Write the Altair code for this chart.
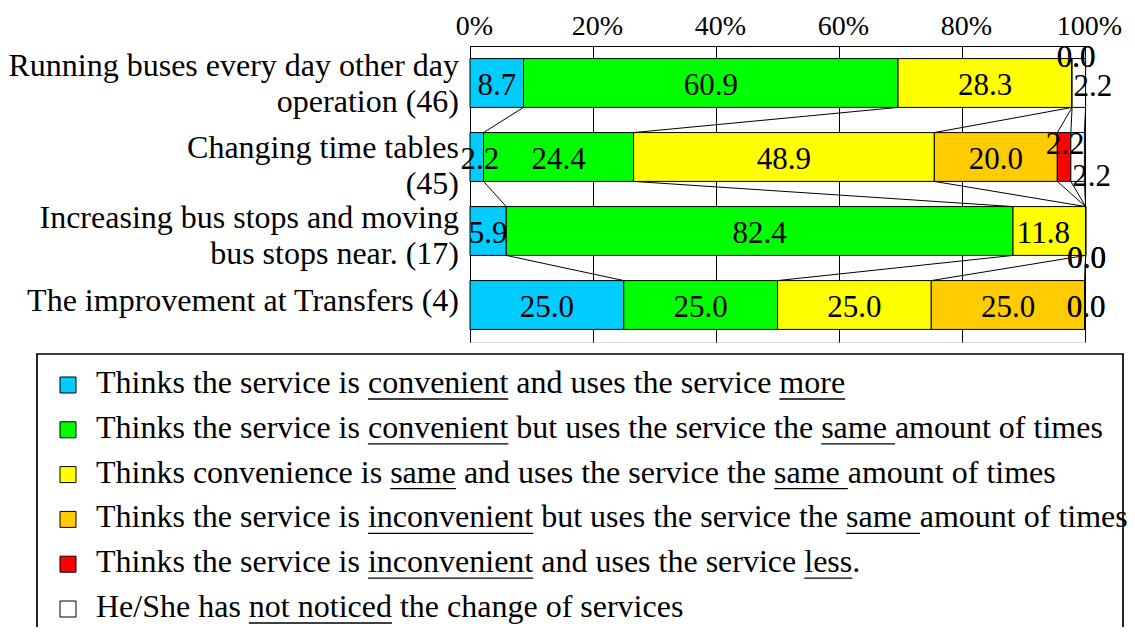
import altair as alt
import pandas as pd

# ---------------- data ----------------
categories = [
    "Running buses every day other day\noperation (46)",
    "Changing time tables\n(45)",
    "Increasing bus stops and moving\nbus stops near. (17)",
    "The improvement at Transfers (4)",
]

legend_markup = [
    "Thinks the service is [convenient] and uses the service [more]",
    "Thinks the service is [convenient] but uses the service the [same ]amount of times",
    "Thinks convenience is [same] and uses the service the [same ]amount of times",
    "Thinks the service is [inconvenient] but uses the service the [same ]amount of times",
    "Thinks the service is [inconvenient] and uses the service [less].",
    "He/She has [not noticed] the change of services",
]
colors = ["#00CCFF", "#00FF00", "#FFFF00", "#FFCC00", "#FF0000", "#FFFFFF"]

conv_more = [8.7, 2.2, 5.9, 25.0]
conv_same = [60.9, 24.4, 82.4, 25.0]
same_same = [28.3, 48.9, 11.8, 25.0]
inconv_same = [0.0, 20.0, 0.0, 25.0]
inconv_less = [0.0, 2.2, 0.0, 0.0]
not_noticed = [2.2, 2.2, 0.0, 0.0]
series_values = [conv_more, conv_same, same_same, inconv_same, inconv_less, not_noticed]

tick_values = [0, 20, 40, 60, 80, 100]

# label nudges (pixels) for crowded small segments: (row, series) -> (dx, dy)
LABEL_DY = 3
label_nudge = {
    (0, 3): (4, -28), (0, 4): (4, -28), (0, 5): (14, 1),
    (1, 0): (3, 0), (1, 4): (1, -15), (1, 5): (14, 17),
    (2, 2): (-6, 0), (2, 3): (1, 25), (2, 4): (1, 25), (2, 5): (1, 25),
    (3, 4): (1, 0), (3, 5): (1, 0),
}
# vertical nudge of each category label block (pixels)
cat_label_dy = [-17, -9, -13, -4]

FONT = "Liberation Serif"
W, H = 615, 296

series_names = [m.replace("[", "").replace("]", "") for m in legend_markup]

# ---------------- tables ----------------
rows = []
cums = []
for r, cat in enumerate(categories):
    cum = 0.0
    row_c = []
    for k, name in enumerate(series_names):
        v = series_values[k][r]
        dx, dy = label_nudge.get((r, k), (0, 0))
        rows.append(dict(category=cat, series=name, start=cum, end=cum + v,
                         mid=cum + v / 2, lbl=f"{v:.1f}", nudge=f"{dx},{dy}"))
        cum += v
        row_c.append(cum)
    cums.append(row_c)
df = pd.DataFrame(rows)

lines = []
for r in range(len(categories) - 1):
    for k in range(len(series_names)):
        lines.append(dict(cat_a=categories[r], cat_b=categories[r + 1],
                          xa=cums[r][k], xb=cums[r + 1][k]))
lines_df = pd.DataFrame(lines)
cat_df = pd.DataFrame({"category": categories, "idx": list(range(len(categories)))})

# ---------------- scales / axes ----------------
xscale = alt.Scale(domain=[0, 100], nice=False, zero=True)
yscale = alt.Scale(domain=categories, paddingInner=0.34, paddingOuter=0.17)
color_scale = alt.Scale(domain=series_names, range=colors)

x_axis = alt.Axis(orient="top", values=tick_values, labelExpr="datum.value + '%'",
                  title=None, ticks=False, tickSize=0, grid=True, gridColor="black",
                  gridOpacity=1, gridWidth=1, domainColor="black", domainWidth=1,
                  labelFont=FONT, labelFontSize=28, labelColor="black",
                  labelPadding=6, labelOffset=4, labelFlush=False, labelOverlap=False)
y_axis = alt.Axis(orient="right", offset=-W, labels=False, ticks=True, tickSize=10,
                  tickBand="extent", tickColor="black", tickWidth=1, domain=True,
                  domainColor="black", domainWidth=1, title=None, grid=False)

series_lines = alt.Chart(lines_df).mark_rule(color="black", strokeWidth=1).encode(
    x=alt.X("xa:Q", scale=xscale, axis=x_axis),
    x2="xb:Q",
    y=alt.Y("cat_a:N", scale=yscale, axis=y_axis, bandPosition=1),
    y2=alt.Y2("cat_b:N", bandPosition=0),
)

bars = alt.Chart(df).mark_bar(stroke="black", strokeWidth=1, opacity=1).encode(
    x=alt.X("start:Q", scale=xscale, axis=x_axis),
    x2="end:Q",
    y=alt.Y("category:N", scale=yscale, axis=y_axis),
    color=alt.Color("series:N", scale=color_scale, legend=None),
)

label_layers = []
for key in sorted(df["nudge"].unique()):
    dx, dy = (int(v) for v in key.split(","))
    label_layers.append(
        alt.Chart(df).transform_filter(alt.datum.nudge == key).mark_text(
            font=FONT, fontSize=31, color="black", baseline="middle", align="center",
            dx=dx, dy=dy + LABEL_DY,
        ).encode(
            x=alt.X("mid:Q", scale=xscale, axis=x_axis),
            y=alt.Y("category:N", scale=yscale, axis=y_axis),
            text="lbl:N",
        )
    )

cat_layers = []
for i, cdy in enumerate(cat_label_dy):
    cat_layers.append(
        alt.Chart(cat_df).transform_filter(alt.datum.idx == i).mark_text(
            font=FONT, fontSize=32, color="black", align="right", baseline="middle",
            lineBreak="\n", lineHeight=36, dy=cdy,
        ).encode(
            x=alt.value(-11),
            y=alt.Y("category:N", scale=yscale, axis=y_axis),
            text="category:N",
        )
    )

bar_group = alt.layer(series_lines, bars, *label_layers, *cat_layers)

# ---------------- legend ----------------
CW = {" ": 250, ".": 250, "/": 278, "T": 611, "H": 722, "S": 556,
      "a": 444, "b": 500, "c": 444, "d": 500, "e": 444, "f": 333, "g": 500,
      "h": 500, "i": 278, "j": 278, "k": 500, "l": 278, "m": 778, "n": 500,
      "o": 500, "p": 500, "q": 500, "r": 333, "s": 389, "t": 278, "u": 500,
      "v": 500, "w": 722, "x": 500, "y": 500, "z": 444}
LFS = 32


def text_w(s):
    return sum(CW.get(c, 500) for c in s) / 1000.0 * LFS


ul_rows = []
for markup, name in zip(legend_markup, series_names):
    pos = 0.0
    i = 0
    while i < len(markup):
        if markup[i] == "[":
            j = markup.index("]", i)
            word = markup[i + 1:j]
            ul_rows.append(dict(series=name, u1=pos, u2=pos + text_w(word)))
            pos += text_w(word)
            i = j + 1
        else:
            pos += text_w(markup[i])
            i += 1
ul_df = pd.DataFrame(ul_rows)
leg_df = pd.DataFrame({"series": series_names, "tx": 0.0, "sx": -28.0})

lx = alt.Scale(domain=[0, 1000], range=[-374, 626])
ly = alt.Scale(type="point", domain=series_names, range=[347, 571], padding=0)

legend_box = alt.Chart(pd.DataFrame({"a": [0]})).mark_rect(
    fill="white", fillOpacity=0, stroke="black", strokeWidth=1.7
).encode(x=alt.value(-433), x2=alt.value(653), y=alt.value(308), y2=alt.value(700))

legend_text = alt.Chart(leg_df).mark_text(
    font=FONT, fontSize=LFS, color="black", align="left", baseline="alphabetic"
).encode(
    x=alt.X("tx:Q", scale=lx, axis=None),
    y=alt.Y("series:N", scale=ly, axis=None),
    text="series:N",
)

legend_sq = alt.Chart(leg_df).mark_square(
    size=256, stroke="black", strokeWidth=1, opacity=1, yOffset=-8
).encode(
    x=alt.X("sx:Q", scale=lx, axis=None),
    y=alt.Y("series:N", scale=ly, axis=None),
    fill=alt.Color("series:N", scale=color_scale, legend=None),
)

legend_ul = alt.Chart(ul_df).mark_rule(color="black", strokeWidth=1.3, yOffset=6).encode(
    x=alt.X("u1:Q", scale=lx, axis=None),
    x2="u2:Q",
    y=alt.Y("series:N", scale=ly, axis=None),
)

legend_group = alt.layer(legend_box, legend_sq, legend_text, legend_ul)

chart = alt.layer(bar_group, legend_group).resolve_scale(
    x="independent", y="independent"
).properties(
    width=W, height=H,
    padding={"left": 462, "top": 38, "right": 42, "bottom": 285},
    autosize=alt.AutoSizeParams(type="none"),
).configure_view(strokeWidth=0).configure(font=FONT, background="white")

chart.save("out.html", embed_options={"renderer": "svg", "actions": False})
